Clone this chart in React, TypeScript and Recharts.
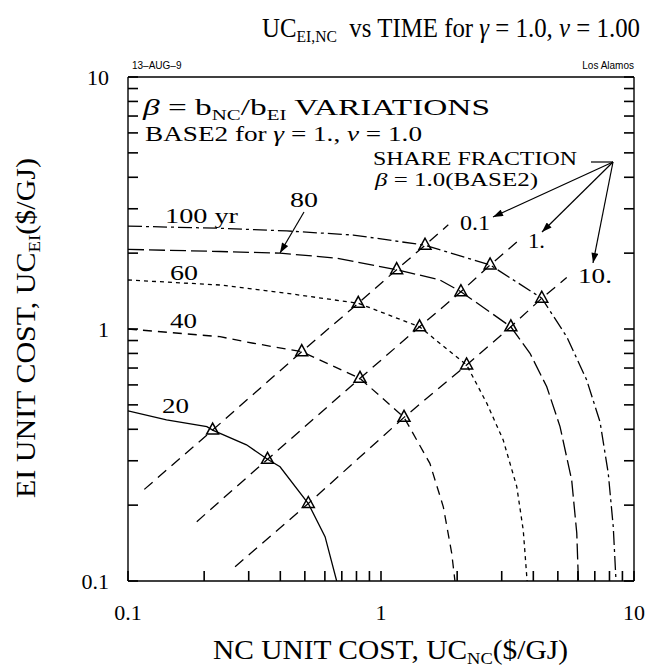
import React from 'react';
import { ComposedChart, Line, Scatter, XAxis, YAxis } from 'recharts';

// Cost curves, one pair of arrays per time horizon (NC cost, EI cost in $/GJ)
const nc20 = [0.1, 0.142, 0.205, 0.216, 0.294, 0.356, 0.399, 0.516, 0.601, 0.668];
const ei20 = [0.473, 0.436, 0.41, 0.397, 0.347, 0.304, 0.284, 0.203, 0.15, 0.1];

const nc40 = [0.1, 0.231, 0.313, 0.486, 0.826, 1.233, 1.56, 1.763, 1.903, 1.96];
const ei40 = [1.0, 0.932, 0.878, 0.813, 0.637, 0.446, 0.293, 0.197, 0.129, 0.1];

const nc60 = [0.1, 0.231, 0.424, 0.813, 1.42, 2.18, 2.62, 3.04, 3.44, 3.65, 3.78];
const ei60 = [1.565, 1.495, 1.386, 1.265, 1.02, 0.72, 0.507, 0.363, 0.237, 0.159, 0.1];

const nc80 = [0.1, 0.231, 0.399, 0.668, 1.153, 1.71, 2.07, 3.26, 3.88, 4.52, 5.1, 5.67, 5.94, 6.03];
const ei80 = [2.07, 2.03, 2.0, 1.91, 1.72, 1.565, 1.406, 1.02, 0.801, 0.59, 0.41, 0.252, 0.155, 0.1];

const nc100 = [0.1, 0.231, 0.424, 0.777, 1.493, 2.7, 4.32, 5.42, 6.5, 7.34, 7.91, 8.28, 8.49];
const ei100 = [2.56, 2.51, 2.45, 2.36, 2.15, 1.795, 1.325, 0.932, 0.628, 0.428, 0.268, 0.164, 0.1];

// Share fraction points (beta = 0.1, 1, 10) where they cross the 20..100 yr curves
const share01Nc = [0.216, 0.486, 0.813, 1.153, 1.493];
const share01Ei = [0.397, 0.813, 1.265, 1.72, 2.15];
const share1Nc = [0.356, 0.826, 1.42, 2.07, 2.7];
const share1Ei = [0.304, 0.637, 1.02, 1.406, 1.795];
const share10Nc = [0.516, 1.233, 2.18, 3.26, 4.32];
const share10Ei = [0.203, 0.446, 0.72, 1.02, 1.325];

// where each share fraction line starts and stops
const share01Ends = [[0.116, 0.231], [1.845, 2.59]];
const share1Ends = [[0.187, 0.172], [3.49, 2.24]];
const share10Ends = [[0.265, 0.114], [5.42, 1.6]];

const logTicks = [0.1, 0.2, 0.3, 0.4, 0.5, 0.6, 0.7, 0.8, 0.9, 1, 2, 3, 4, 5, 6, 7, 8, 9, 10];

const zip = (xs: number[], ys: number[]) => xs.map((x, i) => ({ x, y: ys[i] }));
const withEnds = (xs: number[], ys: number[], ends: number[][]) => [
  { x: ends[0][0], y: ends[0][1] },
  ...zip(xs, ys),
  { x: ends[1][0], y: ends[1][1] },
];

const curves = [
  { name: '20', data: zip(nc20, ei20), dash: undefined },
  { name: '40', data: zip(nc40, ei40), dash: '9 6' },
  { name: '60', data: zip(nc60, ei60), dash: '4 4' },
  { name: '80', data: zip(nc80, ei80), dash: '16 5' },
  { name: '100', data: zip(nc100, ei100), dash: '14 4 3 4' },
];

const shares = [
  { name: '0.1', pts: zip(share01Nc, share01Ei), line: withEnds(share01Nc, share01Ei, share01Ends) },
  { name: '1.', pts: zip(share1Nc, share1Ei), line: withEnds(share1Nc, share1Ei, share1Ends) },
  { name: '10.', pts: zip(share10Nc, share10Ei), line: withEnds(share10Nc, share10Ei, share10Ends) },
];

const W = 649;
const H = 669;
const serif = '"Liberation Serif", "DejaVu Serif", serif';
const sans = '"Liberation Sans", "DejaVu Sans", sans-serif';
const TICK = -10; // negative size points the tick marks into the plot

const isMajor = (v: number) => Math.abs(Math.log10(v) - Math.round(Math.log10(v))) < 1e-6;

// labels sit past the tick mark, so offsets include its 10px
const BottomLabel = ({ x, y, payload }: any) =>
  isMajor(payload.value) ? (
    <text x={x} y={y + 49} textAnchor="middle" fontFamily={serif} fontSize={22} fill="#000">
      {String(payload.value)}
    </text>
  ) : (
    <g />
  );

const LeftLabel = ({ x, y, payload }: any) =>
  isMajor(payload.value) ? (
    <text x={x - 29} y={y + 8} textAnchor="end" fontFamily={serif} fontSize={22} fill="#000">
      {String(payload.value)}
    </text>
  ) : (
    <g />
  );

const NoLabel = () => <g />;

const Triangle = (props: any) => {
  const { cx, cy } = props;
  return (
    <polygon
      points={`${cx},${cy - 7} ${cx - 6},${cy + 4} ${cx + 6},${cy + 4}`}
      fill="none"
      stroke="#000"
      strokeWidth={1.5}
    />
  );
};

const Sub = ({ children, size = 15, dy = 5 }: any) => (
  <>
    <tspan fontSize={size} dy={dy}>{children}</tspan>
    <tspan dy={-dy}>{'\u200b'}</tspan>
  </>
);

const axisCommon = {
  type: 'number' as const,
  scale: 'log' as const,
  domain: [0.1, 10],
  allowDataOverflow: true,
  ticks: logTicks,
  interval: 0 as const,
  tickSize: TICK,
  tickMargin: 0,
  tickLine: { stroke: '#000', strokeWidth: 1.6 },
  axisLine: { stroke: '#000', strokeWidth: 1.4 },
  stroke: '#000',
};

export default function App() {
  return (
    <div style={{ position: 'absolute', left: 0, top: 0, width: W, height: H, background: '#fff' }}>
      <ComposedChart width={W} height={H} margin={{ top: 76, right: 14, bottom: 58, left: 68 }}>
        <XAxis {...axisCommon} dataKey="x" tick={<BottomLabel />} height={30} />
        <XAxis {...axisCommon} xAxisId="top" orientation="top" tick={<NoLabel />} height={1} />
        <YAxis {...axisCommon} dataKey="y" tick={<LeftLabel />} width={60} />
        <YAxis {...axisCommon} yAxisId="right" orientation="right" tick={<NoLabel />} width={1} />
        {curves.map((c) => (
          <Line
            key={c.name}
            data={c.data}
            dataKey="y"
            type="linear"
            stroke="#000"
            strokeWidth={1.3}
            strokeDasharray={c.dash}
            dot={false}
            activeDot={false}
            isAnimationActive={false}
          />
        ))}
        {shares.map((s) => (
          <Line
            key={'line' + s.name}
            data={s.line}
            dataKey="y"
            type="linear"
            stroke="#000"
            strokeWidth={1.3}
            strokeDasharray="11 7"
            dot={false}
            activeDot={false}
            isAnimationActive={false}
          />
        ))}
        {shares.map((s) => (
          <Scatter key={'pts' + s.name} data={s.pts} shape={<Triangle />} isAnimationActive={false} />
        ))}
      </ComposedChart>

      <svg
        width={W}
        height={H}
        style={{ position: 'absolute', left: 0, top: 0, pointerEvents: 'none' }}
        fontFamily={serif}
        fill="#000"
      >
        <defs>
          <marker id="head" viewBox="0 0 10 7" refX="10" refY="3.5" markerUnits="userSpaceOnUse" markerWidth="11" markerHeight="7" orient="auto">
            <path d="M0,0 L10,3.5 L0,7 z" fill="#000" />
          </marker>
        </defs>

        <text x={262} y={37} fontSize={27} textLength={378} lengthAdjust="spacingAndGlyphs">
          UC<Sub size={17} dy={5}>EI,NC</Sub>{'\u00a0\u00a0'}vs TIME for <tspan fontStyle="italic">γ</tspan> = 1.0,{' '}
          <tspan fontStyle="italic">ν</tspan> = 1.00
        </text>

        <text x={132} y={69} fontFamily={sans} fontSize={10}>13–AUG–9</text>
        <text x={634} y={69} fontFamily={sans} fontSize={10} textAnchor="end">Los Alamos</text>

        <text x={143} y={115} fontSize={24} textLength={347} lengthAdjust="spacingAndGlyphs">
          <tspan fontStyle="italic">β</tspan> = b<Sub size={15} dy={5}>NC</Sub>/b<Sub size={15} dy={5}>EI</Sub> VARIATIONS
        </text>
        <text x={145} y={141} fontSize={21} textLength={277} lengthAdjust="spacingAndGlyphs">
          BASE2 for <tspan fontStyle="italic">γ</tspan> = 1., <tspan fontStyle="italic">ν</tspan> = 1.0
        </text>

        <text x={373} y={165} fontSize={19} textLength={204} lengthAdjust="spacingAndGlyphs">SHARE FRACTION</text>
        <text x={375} y={186} fontSize={19} textLength={163} lengthAdjust="spacingAndGlyphs">
          <tspan fontStyle="italic">β</tspan> = 1.0(BASE2)
        </text>
        <line x1={591} y1={162} x2={613} y2={162} stroke="#000" strokeWidth={1.2} />
        <line x1={613} y1={162} x2={493} y2={217} stroke="#000" strokeWidth={1.2} markerEnd="url(#head)" />
        <line x1={613} y1={162} x2={542} y2={232} stroke="#000" strokeWidth={1.2} markerEnd="url(#head)" />
        <line x1={613} y1={162} x2={593} y2={263} stroke="#000" strokeWidth={1.2} markerEnd="url(#head)" />

        {/* share fraction labels */}
        <text x={460} y={230} fontSize={21} textLength={30} lengthAdjust="spacingAndGlyphs">0.1</text>
        <text x={528} y={248} fontSize={21} textLength={17} lengthAdjust="spacingAndGlyphs">1.</text>
        <text x={578} y={283} fontSize={21} textLength={34} lengthAdjust="spacingAndGlyphs">10.</text>

        {/* time horizon labels */}
        <text x={165} y={223} fontSize={22} textLength={73} lengthAdjust="spacingAndGlyphs">100 yr</text>
        <text x={290} y={207} fontSize={22} textLength={28} lengthAdjust="spacingAndGlyphs">80</text>
        <line x1={304} y1={212} x2={280} y2={253} stroke="#000" strokeWidth={1.2} markerEnd="url(#head)" />
        <text x={170} y={280} fontSize={22} textLength={28} lengthAdjust="spacingAndGlyphs">60</text>
        <text x={170} y={328} fontSize={22} textLength={27} lengthAdjust="spacingAndGlyphs">40</text>
        <text x={162} y={413} fontSize={22} textLength={27} lengthAdjust="spacingAndGlyphs">20</text>

        <text x={213} y={659} fontSize={27} textLength={355} lengthAdjust="spacingAndGlyphs">
          NC UNIT COST, UC<Sub size={17} dy={5}>NC</Sub>($/GJ)
        </text>
        <text transform="rotate(-90)" x={-498} y={35} fontSize={27} textLength={340} lengthAdjust="spacingAndGlyphs">
          EI UNIT COST, UC<Sub size={17} dy={5}>EI</Sub>($/GJ)
        </text>
      </svg>
    </div>
  );
}
